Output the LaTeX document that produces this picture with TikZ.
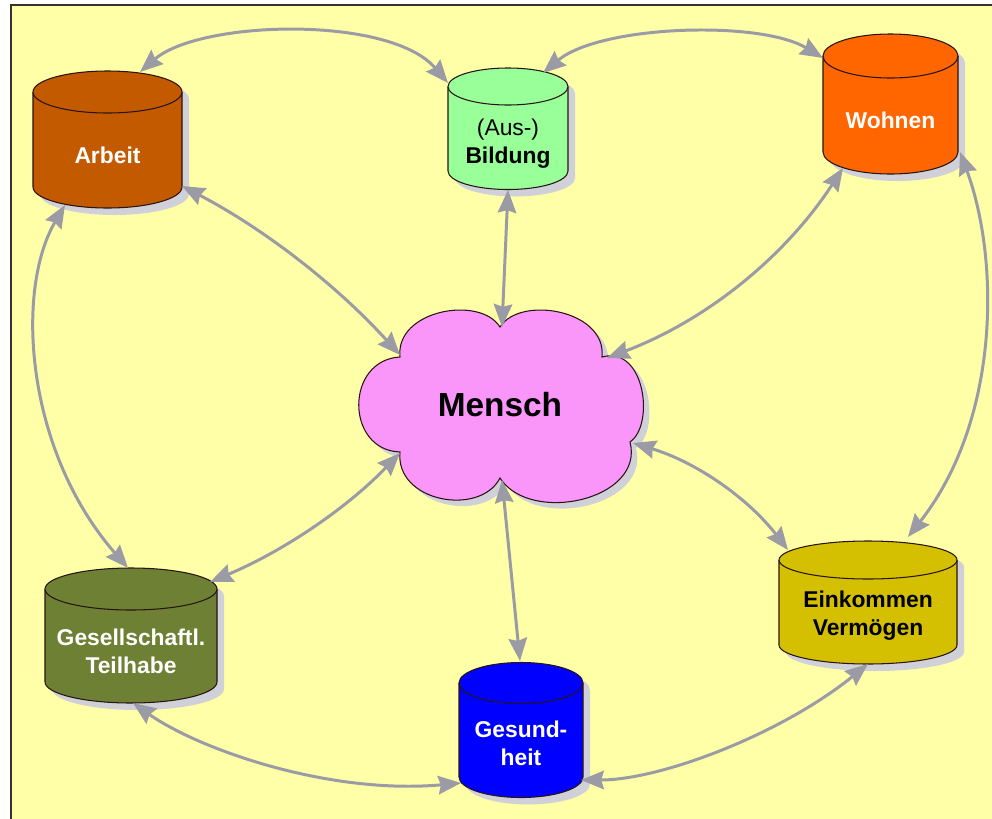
\documentclass[tikz,border=0pt]{standalone}
\usepackage{fontspec}
\setmainfont{Liberation Sans}
\usetikzlibrary{arrows.meta,calc}
\definecolor{bgy}{RGB}{255,255,168}
\definecolor{arrowc}{RGB}{155,155,165}
\definecolor{shadowc}{RGB}{208,208,216}
\definecolor{outl}{RGB}{40,20,20}
\definecolor{cArbeit}{RGB}{196,90,0}
\definecolor{cBildung}{RGB}{153,255,153}
\definecolor{cWohnen}{RGB}{255,102,0}
\definecolor{cGesell}{RGB}{110,128,52}
\definecolor{cGesund}{RGB}{0,0,255}
\definecolor{cEink}{RGB}{212,192,0}
\definecolor{cMensch}{RGB}{250,150,250}
\newcommand\drawcyl[6]{%
  \pgfmathsetmacro\cylL{#1-#2}%
  \pgfmathsetmacro\cylR{#1+#2}%
  \pgfmathsetmacro\cylA{#1-0.5523*#2}%
  \pgfmathsetmacro\cylB{#1+0.5523*#2}%
  \pgfmathsetmacro\cylC{#4+0.5523*#5}%
  \pgfmathsetmacro\cylD{#4+#5}%
  \fill[shadowc,shift={(7,7)}] (\cylL,#3) -- (\cylL,#4) .. controls (\cylL,\cylC) and (\cylA,\cylD) .. (#1,\cylD) .. controls (\cylB,\cylD) and (\cylR,\cylC) .. (\cylR,#4) -- (\cylR,#3) -- cycle;
  \fill[shadowc,shift={(7,7)}] (#1,#3) ellipse [x radius={#2*0.02cm}, y radius={#5*0.02cm}];
  \filldraw[fill=#6,draw=outl,line width=0.6pt] (\cylL,#3) -- (\cylL,#4) .. controls (\cylL,\cylC) and (\cylA,\cylD) .. (#1,\cylD) .. controls (\cylB,\cylD) and (\cylR,\cylC) .. (\cylR,#4) -- (\cylR,#3);
  \filldraw[fill=#6,draw=outl,line width=0.6pt] (#1,#3) ellipse [x radius={#2*0.02cm}, y radius={#5*0.02cm}];
}
\newcommand\cloudshape[1]{%
  \path[#1] (400,357) .. controls (395,310) and (480,295) .. (500,327)
    .. controls (520,295) and (607,310) .. (602,357)
    .. controls (645,345) and (655,425) .. (630,442)
    .. controls (645,500) and (530,525) .. (500,478)
    .. controls (480,517) and (395,502) .. (400,452)
    .. controls (345,450) and (345,360) .. (400,357) -- cycle;
}
\tikzset{
  lbl/.style={align=center, inner sep=0pt, font=\bfseries\fontsize{13}{16}\selectfont},
  conn/.style={draw=arrowc, line width=1.7pt, <->, >={Stealth[length=13pt,width=10.5pt,inset=1.5pt]}},
}
\begin{document}
\begin{tikzpicture}[x=0.02cm,y=-0.02cm]
\useasboundingbox (0,0) rectangle (992,819);
\fill[white] (0,0) rectangle (992,819);
\fill[bgy] (11,5) rectangle (992,819);
\draw[line width=1.1pt, black!80] (11,819) -- (11,5) -- (992,5);

% cylinders
\drawcyl{107.5}{74.5}{92}{187}{21}{cArbeit}
\drawcyl{508}{60}{86.5}{171}{18.5}{cBildung}
\drawcyl{890.5}{67.5}{56}{152}{22}{cWohnen}
\drawcyl{131}{86}{589}{682}{21}{cGesell}
\drawcyl{521}{62}{683}{777}{20.5}{cGesund}
\drawcyl{868}{89}{560}{645}{19}{cEink}

% cloud
\cloudshape{fill=shadowc, shift={(6,6)}}
\cloudshape{fill=cMensch, draw=outl, line width=0.6pt}

% labels
\node[lbl, text=white] (arbeit) at (107.5,155) {Arbeit};
\node[lbl, text=black] (bildung) at (508,144) {\mdseries(Aus-)\\Bildung};
\node[lbl, text=white] (wohnen) at (890.5,120) {Wohnen};
\node[lbl, text=white] (gesell) at (131,651) {Gesellschaftl.\\Teilhabe};
\node[lbl, text=white] (gesund) at (521,743.5) {Gesund-\\heit};
\node[lbl, text=black] (eink) at (868,616) {Einkommen\\Vermögen};
\node[inner sep=0pt, font=\bfseries\fontsize{19}{22}\selectfont] (mensch) at (500,405) {Mensch};

% connectors
\draw[conn] ($(arbeit)+(32.5,-83)$) .. controls (200,20) and (390,15) .. ($(bildung)+(-60,-61)$);
\draw[conn] ($(bildung)+(35,-71)$) .. controls (600,25) and (760,20) .. ($(wohnen)+(-67.5,-62)$);
\draw[conn] ($(arbeit)+(74.5,31)$) .. controls (264.6,229.1) and (337.2,285.7) .. ($(mensch)+(-100,-50)$);
\draw[conn] ($(bildung)+(0,46)$) -- ($(mensch)+(2,-78)$);
\draw[conn] ($(wohnen)+(-47.5,48)$) .. controls (785,257) and (706.4,320.4) .. ($(mensch)+(107,-47)$);
\draw[conn] ($(wohnen)+(69.5,32)$) .. controls (1000,260) and (1000,420) .. ($(eink)+(40,-79)$);
\draw[conn] ($(arbeit)+(-42.5,50)$) .. controls (15,290) and (25,450) .. ($(gesell)+(-3,-83)$);
\draw[conn] ($(mensch)+(-100,48)$) .. controls (345.9,509.1) and (282.5,551.5) .. ($(gesell)+(79,-69)$);
\draw[conn] ($(mensch)+(2,75)$) -- ($(gesund)+(-1,-82.5)$);
\draw[conn] ($(mensch)+(133,38)$) .. controls (696,462) and (747.7,497.8) .. ($(eink)+(-80,-66)$);
\draw[conn] ($(gesell)+(2,52)$) .. controls (200,750) and (330,795) .. ($(gesund)+(-60,39.5)$);
\draw[conn] ($(gesund)+(60,36.5)$) .. controls (660,780) and (780,735) .. ($(eink)+(0,48)$);
\end{tikzpicture}
\end{document}
